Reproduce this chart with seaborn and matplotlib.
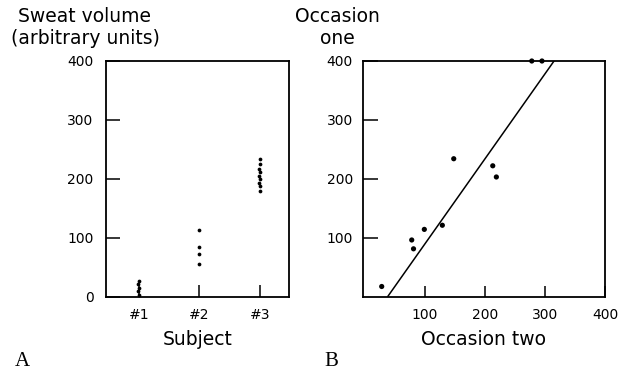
import numpy as np
import pandas as pd
import matplotlib
matplotlib.use("Agg")
import matplotlib.pyplot as plt
import seaborn as sns

# ---- data ----
subject_labels = ["#1", "#2", "#3"]
subj1_values = [3, 9, 15, 21, 27]
subj2_values = [56, 72, 84, 113]
subj3_values = [180, 187, 193, 199, 205, 211, 217, 225, 233]

occ_two = [28, 78, 81, 99, 129, 148, 213, 219, 278, 295]
occ_one = [17, 96, 81, 114, 121, 234, 222, 203, 400, 400]

fit_slope = 1.444
fit_intercept = -55.0

a_yticks = [0, 100, 200, 300, 400]
b_xticks = [100, 200, 300, 400]
b_yticks = [100, 200, 300, 400]

sns.set_theme(style="white")
plt.rcParams["font.family"] = ["DejaVu Sans"]
plt.rcParams["text.color"] = "black"
plt.rcParams["axes.labelcolor"] = "black"
plt.rcParams["xtick.color"] = "black"
plt.rcParams["ytick.color"] = "black"

df_a = pd.DataFrame({
    "subject": [subject_labels[0]] * len(subj1_values)
    + [subject_labels[1]] * len(subj2_values)
    + [subject_labels[2]] * len(subj3_values),
    "sweat": subj1_values + subj2_values + subj3_values,
})
df_b = pd.DataFrame({"two": occ_two, "one": occ_one})

fig = plt.figure(figsize=(6.2, 3.73), dpi=100)
axA = fig.add_axes([106 / 620, 1 - 296.5 / 373, (289 - 106) / 620, (296.5 - 61) / 373])
axB = fig.add_axes([362.5 / 620, 1 - 296.5 / 373, (605 - 362.5) / 620, (296.5 - 61) / 373])

# Panel A
sns.swarmplot(data=df_a, x="subject", y="sweat", order=subject_labels,
              color="black", size=2.7, ax=axA, clip_on=False)
axA.set_xlim(-0.545, 2.48)
axA.set_ylim(0, 400)
axA.set_yticks(a_yticks)
axA.set_yticklabels([str(v) for v in a_yticks])
axA.set_xlabel("Subject", fontsize=13.5, labelpad=6)
axA.set_ylabel("")
axA.tick_params(axis="y", direction="in", length=10, width=1.1, pad=9,
                labelsize=10, left=True, color="black", labelcolor="black")
axA.tick_params(axis="x", direction="in", length=9, width=1.1, pad=8,
                labelsize=10, bottom=True, color="black", labelcolor="black")

# Panel B
sns.scatterplot(data=df_b, x="two", y="one", color="black", s=14,
                edgecolor="none", ax=axB, clip_on=False, zorder=3)
axB.axline((0, fit_intercept), slope=fit_slope, color="black", lw=1.1)
axB.set_xlim(-4, 400)
axB.set_ylim(0, 400)
axB.set_xticks(b_xticks)
axB.set_xticklabels([str(v) for v in b_xticks])
axB.set_yticks(b_yticks)
axB.set_yticklabels([str(v) for v in b_yticks])
axB.set_xlabel("Occasion two", fontsize=13.5, labelpad=6)
axB.set_ylabel("")
axB.tick_params(axis="y", direction="in", length=11, width=1.1, pad=7,
                labelsize=10, left=True, color="black", labelcolor="black")
axB.tick_params(axis="x", direction="in", length=8, width=1.1, pad=8,
                labelsize=10, bottom=True, color="black", labelcolor="black")

for ax in (axA, axB):
    for sp in ax.spines.values():
        sp.set_visible(True)
        sp.set_color("black")
        sp.set_linewidth(1.3)

fig.text(85 / 620, 1 - 17 / 373, "Sweat volume", ha="center", va="center", fontsize=13.5)
fig.text(85 / 620, 1 - 38 / 373, "(arbitrary units)", ha="center", va="center", fontsize=13.5)
fig.text(337 / 620, 1 - 17 / 373, "Occasion", ha="center", va="center", fontsize=13.5)
fig.text(337 / 620, 1 - 38 / 373, "one", ha="center", va="center", fontsize=13.5)
fig.text(15 / 620, 1 - 361 / 373, "A", ha="left", va="center", fontsize=15,
         family=["Liberation Serif", "DejaVu Serif"])
fig.text(324 / 620, 1 - 361 / 373, "B", ha="left", va="center", fontsize=15,
         family=["Liberation Serif", "DejaVu Serif"])

fig.savefig("out.png", dpi=100)
